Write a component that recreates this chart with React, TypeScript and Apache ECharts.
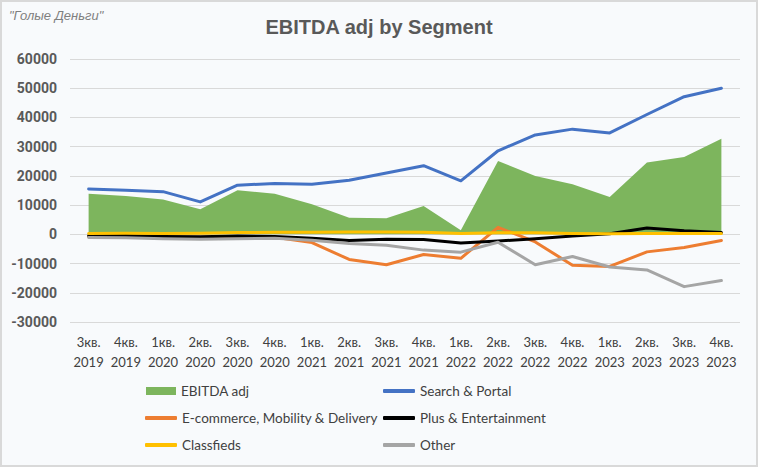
import React, { useEffect, useRef } from "react";
import * as echarts from "echarts";

const quarters = ["3кв.", "4кв.", "1кв.", "2кв.", "3кв.", "4кв.", "1кв.", "2кв.", "3кв.", "4кв.", "1кв.", "2кв.", "3кв.", "4кв.", "1кв.", "2кв.", "3кв.", "4кв."];
const years = ["2019", "2019", "2020", "2020", "2020", "2020", "2021", "2021", "2021", "2021", "2022", "2022", "2022", "2022", "2023", "2023", "2023", "2023"];

const ebitdaAdj = [13900, 13100, 11900, 8600, 15100, 13900, 10300, 5700, 5500, 9700, 1400, 25100, 20000, 17100, 12800, 24600, 26500, 32700];
const searchPortal = [15500, 15100, 14600, 11100, 16800, 17400, 17100, 18500, 21000, 23500, 18300, 28600, 34000, 36000, 34700, 41000, 47100, 50000];
const ecommerce = [-800, -700, -900, -1000, -800, -1000, -2800, -8600, -10400, -6900, -8200, 2400, -2600, -10600, -11000, -6000, -4500, -2100];
const plusEnt = [-500, -400, -700, -800, -600, -700, -1300, -2100, -1700, -1800, -3000, -2300, -1500, -600, 200, 2200, 1200, 600];
const classfieds = [300, 400, 300, 400, 600, 700, 700, 800, 800, 700, 300, 500, 500, 300, 200, 300, 300, 300];
const other = [-1100, -1200, -1500, -1700, -1500, -1300, -2000, -3100, -3700, -5400, -6100, -2700, -10400, -7600, -11200, -12200, -17900, -15800];

const yTicks = { min: -30000, max: 60000, interval: 10000 };

const categories = quarters.map((q, i) => q + "\n" + years[i]);

const COLORS = {
  ebitda: "#7DB55D",
  search: "#4472C4",
  ecom: "#ED7D31",
  plus: "#000000",
  class: "#FFC000",
  other: "#A5A5A5",
};

export default function App() {
  const ref = useRef<HTMLDivElement>(null);
  useEffect(() => {
    if (!ref.current) return;
    const chart = echarts.init(ref.current, null, { renderer: "svg" });
    const legendText = { fontFamily: "Lato", fontSize: 13.5, color: "#404040", lineHeight: 16 };
    const mkLegend = (name: string, left: number, center: number, isArea = false) => ({
      data: [name],
      left,
      top: center - 8,
      itemWidth: isArea ? 30 : 32,
      itemHeight: isArea ? 8 : 4,
      itemGap: 0,
      icon: isArea ? "rect" : "roundRect",
      textStyle: legendText,
      padding: 0,
    });
    const lineSeries = (name: string, data: number[], color: string) => ({
      name,
      type: "line",
      data,
      showSymbol: false,
      symbol: "none",
      lineStyle: { color, width: 3, cap: "round", join: "round" },
      itemStyle: { color },
    });
    chart.setOption({
      animation: false,
      backgroundColor: "transparent",
      title: {
        text: "EBITDA adj by Segment",
        left: "center",
        top: 12,
        textStyle: { fontFamily: "Liberation Sans", fontSize: 20, fontWeight: "bold", color: "#595959" },
      },
      graphic: [
        {
          type: "text",
          left: 9,
          top: 9,
          style: {
            text: "\"Голые Деньги\"",
            fontFamily: "Liberation Sans",
            fontStyle: "italic",
            fontSize: 13,
            fill: "#7F7F7F",
          },
        },
      ],
      legend: [
        mkLegend("EBITDA adj", 146, 391, true),
        mkLegend("Search & Portal", 383, 391),
        mkLegend("E-commerce, Mobility & Delivery", 145, 418),
        mkLegend("Plus & Entertainment", 383, 418),
        mkLegend("Classfieds", 145, 445),
        mkLegend("Other", 383, 445),
      ],
      grid: { left: 70, right: 18, top: 59, bottom: 145, containLabel: false },
      xAxis: {
        type: "category",
        data: categories,
        boundaryGap: true,
        axisLine: { show: false, onZero: false },
        axisTick: { show: false },
        axisLabel: {
          interval: 0,
          margin: 10,
          fontFamily: "Lato",
          fontSize: 13,
          lineHeight: 20,
          color: "#404040",
        },
      },
      yAxis: {
        type: "value",
        min: yTicks.min,
        max: yTicks.max,
        interval: yTicks.interval,
        axisLine: { show: false },
        axisTick: { show: false },
        splitLine: { lineStyle: { color: "#D9D9D9", width: 1 } },
        axisLabel: {
          margin: 13,
          fontFamily: "Roboto",
          fontSize: 14,
          fontWeight: "bold",
          color: "#595959",
          formatter: (v: number) => String(v),
        },
      },
      series: [
        {
          name: "EBITDA adj",
          type: "line",
          data: ebitdaAdj,
          showSymbol: false,
          symbol: "none",
          lineStyle: { width: 0, color: COLORS.ebitda },
          itemStyle: { color: COLORS.ebitda },
          areaStyle: { color: COLORS.ebitda, opacity: 1 },
        },
        lineSeries("Search & Portal", searchPortal, COLORS.search),
        lineSeries("E-commerce, Mobility & Delivery", ecommerce, COLORS.ecom),
        lineSeries("Plus & Entertainment", plusEnt, COLORS.plus),
        lineSeries("Classfieds", classfieds, COLORS.class),
        lineSeries("Other", other, COLORS.other),
      ],
    });
    return () => chart.dispose();
  }, []);
  return (
    <div
      style={{
        position: "absolute",
        left: 0,
        top: 0,
        width: 758,
        height: 467,
        boxSizing: "border-box",
        border: "2px solid #D9D9D9",
        background: "#F8FAFC",
      }}
    >
      <div ref={ref} style={{ position: "absolute", left: -2, top: -2, width: 758, height: 467 }} />
    </div>
  );
}
